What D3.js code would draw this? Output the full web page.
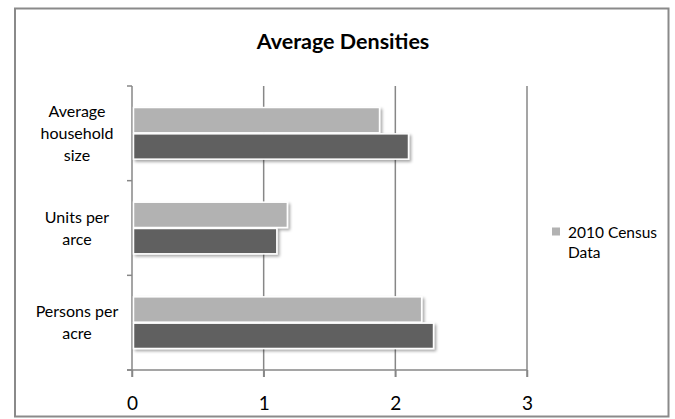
<!DOCTYPE html>
<html><head><meta charset="utf-8">
<script src="https://cdn.jsdelivr.net/npm/d3@7"></script>
<style>body{margin:0;background:#fff}svg{display:block}</style>
</head><body>
<svg id="c" width="675" height="419"></svg>
<script>
const categories = ["Average household size", "Units per arce", "Persons per acre"];
const categoryLines = [["Average","household","size"],["Units per","arce"],["Persons per","acre"]];
const seriesNames = ["2010 Census Data", ""];
const census2010 = [1.88, 1.18, 2.20];
const otherSeries = [2.10, 1.10, 2.29];
const xTicks = [0, 1, 2, 3];
const title = "Average Densities";

const colors = ["#b2b2b2", "#616161"];
const font = "Lato, 'Open Sans', sans-serif";
const svg = d3.select("#c");

const defs = svg.append("defs");
const f = defs.append("filter").attr("id","sh").attr("x","-10%").attr("y","-30%").attr("width","130%").attr("height","180%");
f.append("feGaussianBlur").attr("in","SourceAlpha").attr("stdDeviation",1.6).attr("result","b");
f.append("feOffset").attr("in","b").attr("dx",2).attr("dy",2).attr("result","o");
f.append("feComponentTransfer").attr("in","o").attr("result","o2").append("feFuncA").attr("type","linear").attr("slope",0.35);
const m = f.append("feMerge"); m.append("feMergeNode").attr("in","o2"); m.append("feMergeNode").attr("in","SourceGraphic");

// frame
svg.append("rect").attr("x",15).attr("y",8.5).attr("width",653.5).attr("height",408)
  .attr("fill","#fff").attr("stroke","#8a8a8a").attr("stroke-width",2);

svg.append("text").attr("x",343).attr("y",48.5).attr("text-anchor","middle")
  .attr("font-family",font).attr("font-weight","bold").attr("font-size",21.5).attr("fill","#000").text(title);

const x = d3.scaleLinear().domain([0,3]).range([132,527]);
const y0 = d3.scaleBand().domain(categories).range([86,370]).paddingInner(0.444).paddingOuter(0.222);
const y1 = d3.scaleBand().domain(seriesNames).range([0, y0.bandwidth()]);
const yTickScale = d3.scaleLinear().domain([0,categories.length]).range([86,370]);

// gridlines
const g = svg.append("g");
g.selectAll("line.grid").data(xTicks.slice(1)).join("line")
  .attr("x1",d=>x(d)).attr("x2",d=>x(d)).attr("y1",86).attr("y2",377)
  .attr("stroke","#878787").attr("stroke-width",1.5);

// bottom axis
const xa = svg.append("g").attr("transform","translate(0,370)")
  .call(d3.axisBottom(x).tickValues(xTicks).tickSize(7).tickFormat(d3.format("d")));
xa.select(".domain").remove();
xa.selectAll(".tick line").attr("stroke","#878787").attr("stroke-width",1.5);
xa.selectAll(".tick text").attr("font-family",font).attr("font-size",19).attr("fill","#000").attr("dy",null).attr("y",40);
svg.append("line").attr("x1",127).attr("x2",x(3)).attr("y1",370).attr("y2",370).attr("stroke","#878787").attr("stroke-width",1.5);

// left axis
svg.append("line").attr("x1",132).attr("x2",132).attr("y1",86).attr("y2",377).attr("stroke","#878787").attr("stroke-width",1.5);
svg.selectAll("line.lt").data(d3.range(categories.length+1)).join("line")
  .attr("x1",127).attr("x2",132).attr("y1",d=>yTickScale(d)).attr("y2",d=>yTickScale(d))
  .attr("stroke","#878787").attr("stroke-width",1.5);

// bars
const rows = categories.map((c,i)=>({c, vals:[census2010[i], otherSeries[i]]}));
const bg = svg.append("g").attr("filter","url(#sh)");
rows.forEach(r=>{
  r.vals.forEach((v,j)=>{
    bg.append("rect").attr("x",x(0)+1.5).attr("y",y0(r.c)+y1(seriesNames[j])+0.5)
      .attr("width",x(v)-x(0)-1.5).attr("height",y1.bandwidth()-1)
      .attr("fill",colors[j]).attr("stroke","#fff").attr("stroke-width",1.5);
  });
});

// category labels
categories.forEach((c,i)=>{
  const lines = categoryLines[i];
  const cy = y0(c) + y0.bandwidth()/2;
  const lh = 22;
  const t = svg.append("text").attr("text-anchor","middle").attr("font-family",font).attr("font-size",16).attr("fill","#000");
  lines.forEach((l,k)=>{
    t.append("tspan").attr("x",77).attr("y",cy - (lines.length-1)*lh/2 + k*lh + 5.5).text(l);
  });
});

// legend
svg.append("rect").attr("x",552).attr("y",227.5).attr("width",8).attr("height",8).attr("fill",colors[0]);
const lt = svg.append("text").attr("font-family",font).attr("font-size",15.5).attr("fill","#000");
lt.append("tspan").attr("x",568).attr("y",238).text("2010 Census");
lt.append("tspan").attr("x",568).attr("y",258).text("Data");
</script>
</body></html>
